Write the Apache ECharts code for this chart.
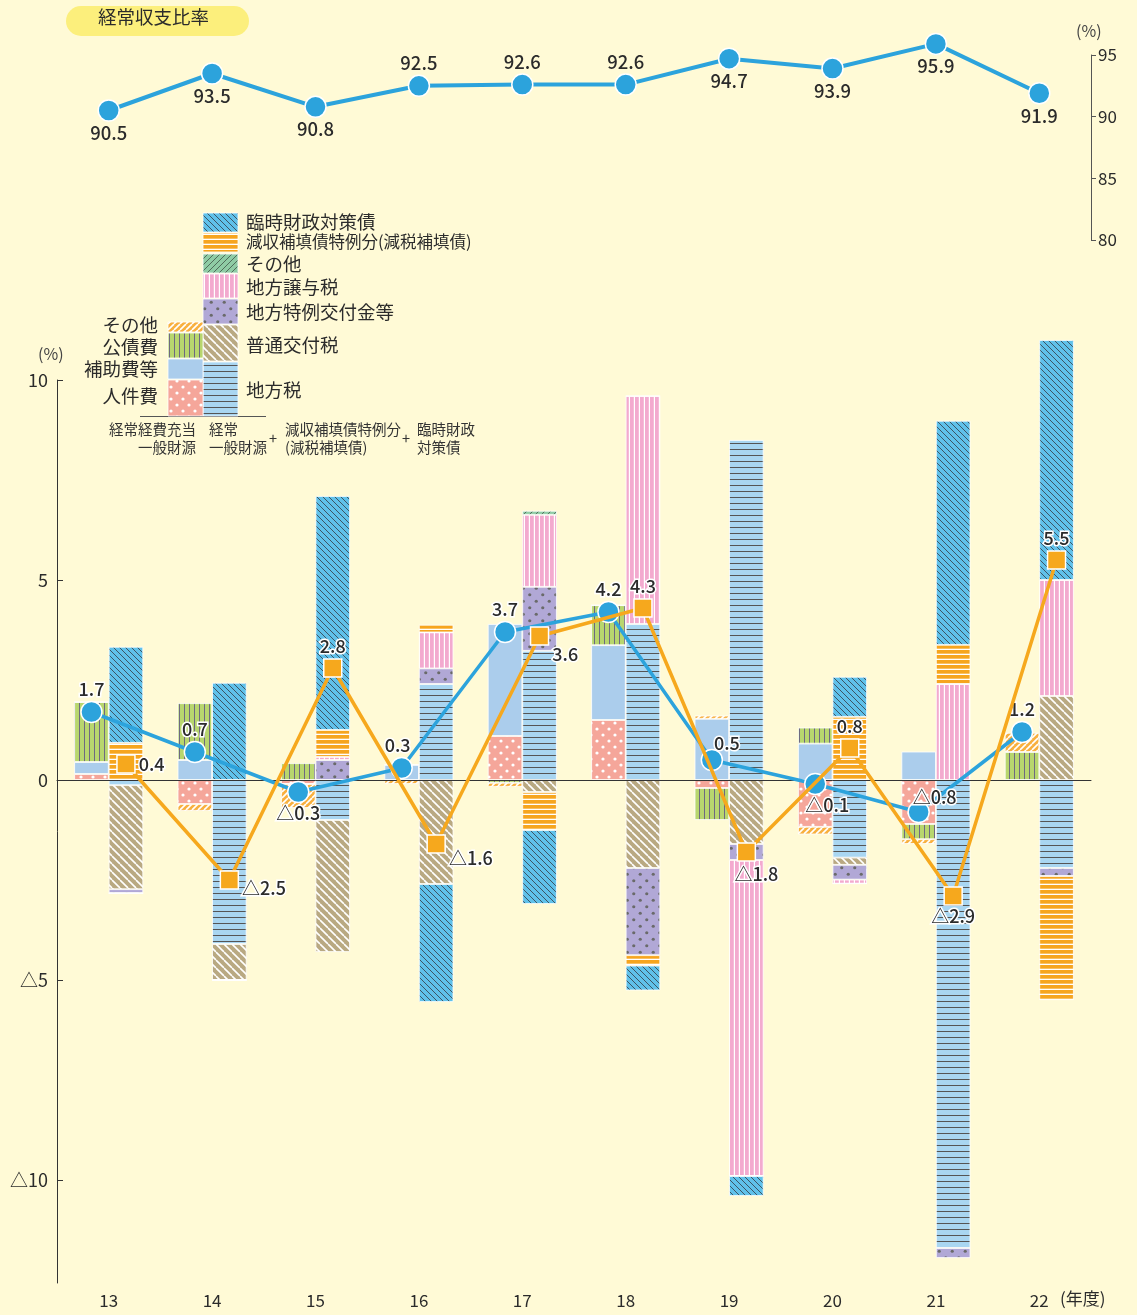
<!DOCTYPE html>
<html>
<head>
<meta charset="utf-8">
<script src="https://cdn.jsdelivr.net/npm/echarts@6/dist/echarts.min.js"></script>
<style>
  html, body { margin: 0; padding: 0; background: #fffad6; }
  #chart { width: 1137px; height: 1315px; }
</style>
</head>
<body>
<div id="chart"></div>
<script>
// 年度
const years = ['13', '14', '15', '16', '17', '18', '19', '20', '21', '22'];

// 経常収支比率 (%)
const ratio = [90.5, 93.5, 90.8, 92.5, 92.6, 92.6, 94.7, 93.9, 95.9, 91.9];

// 伸び率 (%)
const expGrowth = [1.7, 0.7, -0.3, 0.3, 3.7, 4.2, 0.5, -0.1, -0.8, 1.2];   // 経常経費充当一般財源
const revGrowth = [0.4, -2.5, 2.8, -1.6, 3.6, 4.3, -1.8, 0.8, -2.9, 5.5];  // 経常一般財源＋減収補填債特例分＋臨時財政対策債

// 経常経費充当一般財源の寄与度
const personnel = [0.15, -0.6, -0.1, 0, 1.1, 1.5, -0.2, -1.17, -1.1, 0];
const subsidy = [0.3, 0.5, 0, 0.38, 2.8, 1.87, 1.53, 0.91, 0.71, 0];
const debtService = [1.5, 1.42, 0.42, 0, -0.07, 1.0, -0.8, 0.4, -0.38, 0.7];
const expOther = [0, -0.17, -0.6, -0.1, -0.1, 0, 0.08, -0.19, -0.12, 0.48];

// 経常一般財源等の寄与度
const localTax = [-0.13, -4.1, -1.0, 2.4, 3.23, 3.9, 8.5, -1.94, -11.7, -2.2];
const allocTax = [-2.6, -0.9, -3.3, -2.6, -0.3, -2.2, -1.6, -0.18, 0, 2.1];
const specialGrant = [-0.1, 0, 0.5, 0.39, 1.6, -2.18, -0.4, -0.37, -0.25, -0.2];
const transferTax = [0, 0, 0.08, 0.9, 1.8, 5.7, -7.9, -0.1, 2.4, 2.9];
const revOther = [0, 0, 0, 0, 0.1, 0, 0, 0, 0, 0];
const reductionBond = [0.93, 0, 0.67, 0.19, -0.95, -0.26, 0, 1.58, 0.98, -3.1];
const tempBond = [2.4, 2.43, 5.85, -2.95, -1.85, -0.62, -0.5, 1.0, 5.6, 6.0];

const yTicks = [-10, -5, 0, 5, 10];

// ラベル位置（表示用）
const ratioLabelPos = ['bottom', 'bottom', 'bottom', 'top', 'top', 'top', 'bottom', 'bottom', 'bottom', 'bottom'];
const expLabelPos = [['top', 0, 0], ['top', 0, 0], ['bottom', 0, -2], ['top', -4, 0], ['top', 0, 0], ['top', 0, 0],
  ['top', 15, 6], ['bottom', 12, -2], ['top', 16, 8], ['top', 0, 0]];
const revLabelPos = [['right', 0, 0], ['right', 0, 8], ['top', 0, 0], ['right', 0, 14], ['right', 0, 18], ['top', 0, 0],
  ['bottom', 10, 0], ['top', 0, 0], ['bottom', 0, -2], ['top', 0, 0]];

const FONT = '"Noto Sans CJK JP", "Noto Sans", sans-serif';
const TXT = '#2b2b2b';

// 模様タイル
function tile(w, h, bg, draw) {
  const c = document.createElement('canvas');
  c.width = w; c.height = h;
  const g = c.getContext('2d');
  g.fillStyle = bg; g.fillRect(0, 0, w, h);
  draw(g, w, h);
  return { image: c, repeat: 'repeat' };
}
const hLines = (col, lw) => (g, w, h) => { g.fillStyle = col; g.fillRect(0, h - lw, w, lw); };
const vLines = (col, lw) => (g, w, h) => { g.fillStyle = col; g.fillRect(w - lw, 0, lw, h); };
const diag = (col, lw, dir) => (g, w, h) => {
  g.strokeStyle = col; g.lineWidth = lw;
  [-w, 0, w].forEach(o => {
    g.beginPath();
    if (dir > 0) { g.moveTo(o, h); g.lineTo(o + w, 0); } else { g.moveTo(o, 0); g.lineTo(o + w, h); }
    g.stroke();
  });
};
const dots = (col, r) => (g, w, h) => {
  g.fillStyle = col;
  [[w / 4, h / 4], [3 * w / 4, 3 * h / 4]].forEach(([x, y]) => { g.beginPath(); g.arc(x, y, r, 0, Math.PI * 2); g.fill(); });
};

const P = {
  personnel: tile(12, 12, '#f5a69a', dots('#ffffff', 1.6)),
  subsidy: '#abcdec',
  debt: tile(5, 5, '#b8d66e', vLines('#6e6a80', 1)),
  expOther: tile(6, 6, '#f8b03e', diag('#ffffff', 1.6, 1)),
  localTax: tile(6, 6, '#a9d6f1', hLines('#555555', 1)),
  allocTax: tile(8, 8, '#b9a982', diag('#ffffff', 1.6, -1)),
  special: tile(13, 13, '#b1a8d6', dots('#6a6a6a', 1.6)),
  transfer: tile(5, 5, '#f3aacf', vLines('#ffffff', 1.2)),
  revOther: tile(6, 6, '#8fcca5', diag('#4f6d5a', 1, 1)),
  reduction: tile(5, 5, '#f6a51f', hLines('#ffffff', 1.3)),
  tempBond: tile(6, 6, '#60c1ea', diag('#3d5565', 1, -1))
};

const GL = 57, GW = 1034, BW = 34.5;
const off = (BW / 2) / (GW / years.length);
const fmt = v => (v < 0 ? '△' + Math.abs(v) : String(v));

function barSeries(name, stack, data, fill) {
  return {
    name, type: 'bar', stack, data, xAxisIndex: 1, yAxisIndex: 1,
    barWidth: BW, barGap: '0%', clip: false,
    itemStyle: { color: fill, borderColor: '#ffffff', borderWidth: 0.8 }
  };
}

function lineLabel(pos) {
  return {
    show: true, position: pos[0], offset: [pos[1], pos[2]], formatter: p => fmt(p.value[1]),
    fontSize: 18, fontWeight: 500, color: TXT, fontFamily: FONT,
    textBorderColor: '#ffffff', textBorderWidth: 3, distance: 3
  };
}

const chart = echarts.init(document.getElementById('chart'));

const bars = [
  barSeries('人件費', 'exp', personnel, P.personnel),
  barSeries('補助費等', 'exp', subsidy, P.subsidy),
  barSeries('公債費', 'exp', debtService, P.debt),
  barSeries('その他', 'exp', expOther, P.expOther),
  barSeries('地方税', 'rev', localTax, P.localTax),
  barSeries('普通交付税', 'rev', allocTax, P.allocTax),
  barSeries('地方特例交付金等', 'rev', specialGrant, P.special),
  barSeries('地方譲与税', 'rev', transferTax, P.transfer),
  barSeries('その他', 'rev', revOther, P.revOther),
  barSeries('減収補填債特例分', 'rev', reductionBond, P.reduction),
  barSeries('臨時財政対策債', 'rev', tempBond, P.tempBond)
];
bars[0].markLine = {
  silent: true, symbol: ['none', 'none'], label: { show: false },
  lineStyle: { color: '#333333', width: 1, type: 'solid' }, data: [{ yAxis: 0 }]
};

// 凡例（図中の積み上げ見本）
const revLegend = [
  ['臨時財政対策債', P.tempBond, 213, 232, 222, 18.5],
  ['減収補填債特例分(減税補填債)', P.reduction, 233, 252, 242, 16.5],
  ['その他', P.revOther, 254, 273, 264, 18.5],
  ['地方譲与税', P.transfer, 274, 298, 287, 18.5],
  ['地方特例交付金等', P.special, 299, 324, 312, 18.5],
  ['普通交付税', P.allocTax, 325, 361, 345, 18.5],
  ['地方税', P.localTax, 362, 416, 390, 18.5]
];
const expLegend = [
  ['その他', P.expOther, 322, 332, 325],
  ['公債費', P.debt, 333, 358, 347],
  ['補助費等', P.subsidy, 359, 379, 369],
  ['人件費', P.personnel, 380, 416, 396]
];
const graphics = [
  { type: 'rect', left: 66, top: 6, shape: { width: 183, height: 30, r: 15 }, style: { fill: '#fcef7c' } },
  { type: 'text', left: 98, top: 8, style: { text: '経常収支比率', font: '18.5px ' + FONT, fill: TXT } },
  { type: 'text', left: 1076, top: 23, style: { text: '(%)', font: '16px ' + FONT, fill: '#444' } },
  { type: 'text', left: 38, top: 346, style: { text: '(%)', font: '16px ' + FONT, fill: '#444' } },
  { type: 'text', left: 1060, top: 1290, style: { text: '(年度)', font: '17px ' + FONT, fill: TXT } },
  { type: 'line', shape: { x1: 140, y1: 416.5, x2: 266, y2: 416.5 }, style: { stroke: '#555', lineWidth: 1 } }
];
revLegend.forEach(([t, f, y0, y1, ty, fs]) => {
  graphics.push({ type: 'rect', shape: { x: 203, y: y0, width: 35, height: y1 - y0 }, style: { fill: f, stroke: '#fff', lineWidth: 0.8 } });
  graphics.push({ type: 'text', x: 246, y: ty, style: { text: t, font: fs + 'px ' + FONT, fill: TXT, verticalAlign: 'middle' } });
});
expLegend.forEach(([t, f, y0, y1, ty]) => {
  graphics.push({ type: 'rect', shape: { x: 168, y: y0, width: 35, height: y1 - y0 }, style: { fill: f, stroke: '#fff', lineWidth: 0.8 } });
  graphics.push({ type: 'text', x: 158, y: ty, style: { text: t, font: '18.5px ' + FONT, fill: TXT, align: 'right', verticalAlign: 'middle' } });
});
[
  ['経常経費充当', 196, 429, 'right'], ['一般財源', 196, 447, 'right'],
  ['経常', 209, 429, 'left'], ['一般財源', 209, 447, 'left'],
  ['+', 273, 438, 'center'],
  ['減収補填債特例分', 285, 429, 'left'], ['(減税補填債)', 285, 447, 'left'],
  ['+', 406, 438, 'center'],
  ['臨時財政', 417, 429, 'left'], ['対策債', 417, 447, 'left']
].forEach(([t, x, y, a]) => {
  graphics.push({ type: 'text', x, y, style: { text: t, font: '14.5px ' + FONT, fill: '#333', align: a, verticalAlign: 'middle' } });
});

chart.setOption({
  backgroundColor: '#fffad6',
  animation: false,
  textStyle: { fontFamily: FONT },
  grid: [
    { left: GL, width: GW, top: 55, height: 185 },
    { left: GL, width: GW, top: 380, height: 903 }
  ],
  xAxis: [
    { type: 'category', gridIndex: 0, data: years, show: false },
    {
      type: 'category', gridIndex: 1, data: years,
      axisLine: { lineStyle: { color: '#333', width: 1 } }, axisTick: { show: false },
      axisLabel: { fontSize: 17, color: TXT, margin: 9 }
    },
    { type: 'value', gridIndex: 1, min: 0, max: years.length, show: false }
  ],
  yAxis: [
    {
      type: 'value', gridIndex: 0, position: 'right', min: 80, max: 95, interval: 5,
      splitLine: { show: false },
      axisLine: { show: true, lineStyle: { color: '#555' } },
      axisTick: { show: true, length: 5, lineStyle: { color: '#555' } },
      axisLabel: { fontSize: 17, color: TXT, margin: 7 }
    },
    {
      type: 'value', gridIndex: 1, min: -12.575, max: 10,
      splitLine: { show: false },
      axisLine: { show: true, lineStyle: { color: '#333' } },
      axisTick: { show: true, inside: true, length: 6, customValues: yTicks, lineStyle: { color: '#333' } },
      axisLabel: { fontSize: 18, color: TXT, margin: 9, customValues: yTicks, formatter: fmt }
    }
  ],
  graphic: graphics,
  series: [
    ...bars,
    {
      name: '経常収支比率', type: 'line', xAxisIndex: 0, yAxisIndex: 0, clip: false,
      symbol: 'circle', symbolSize: 21, color: '#2ca3dc',
      lineStyle: { width: 4, color: '#2ca3dc' },
      itemStyle: { color: '#2ca3dc', borderColor: '#ffffff', borderWidth: 1.5 },
      label: { show: true, fontSize: 18.5, fontWeight: 500, color: TXT, distance: 2 },
      data: ratio.map((v, i) => ({ value: v, label: { position: ratioLabelPos[i] } }))
    },
    {
      name: '経常経費充当一般財源', type: 'line', xAxisIndex: 2, yAxisIndex: 1, clip: false, z: 5,
      symbol: 'circle', symbolSize: 21,
      lineStyle: { width: 3.5, color: '#2ca3dc' },
      itemStyle: { color: '#2ca3dc', borderColor: '#ffffff', borderWidth: 1.5 },
      data: expGrowth.map((v, i) => ({ value: [i + 0.5 - off, v], label: lineLabel(expLabelPos[i]) }))
    },
    {
      name: '経常一般財源等', type: 'line', xAxisIndex: 2, yAxisIndex: 1, clip: false, z: 6,
      symbol: 'rect', symbolSize: 18,
      lineStyle: { width: 3.5, color: '#f6a81d' },
      itemStyle: { color: '#f6a81d', borderColor: '#ffffff', borderWidth: 1.5 },
      data: revGrowth.map((v, i) => ({ value: [i + 0.5 + off, v], label: lineLabel(revLabelPos[i]) }))
    }
  ]
});
</script>
</body>
</html>
